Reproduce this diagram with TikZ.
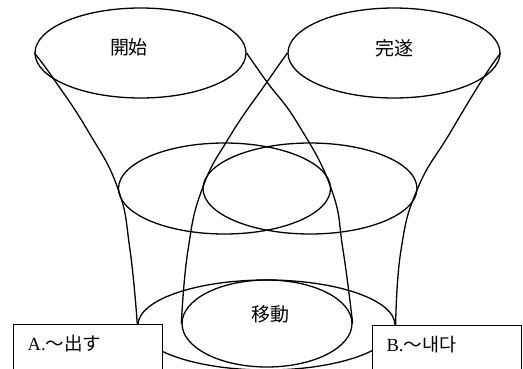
\documentclass[tikz,border=0pt]{standalone}
\usepackage{fontspec}
\setmainfont{Liberation Serif}
\newfontfamily\jpfont{Noto Sans CJK JP}
\newfontfamily\krfont{Noto Sans CJK KR}
\usetikzlibrary{shapes.geometric}
\begin{document}
\begin{tikzpicture}[x=1pt,y=-1pt, line width=1.3pt,
  oval/.style={draw, ellipse, inner sep=0pt},
  lab/.style={font=\jpfont\fontsize{19}{19}\selectfont, inner sep=0pt},
  boxlab/.style={font=\fontsize{18.5}{18.5}\selectfont, inner sep=0pt, anchor=west},
  boxx/.style={draw, fill=white, rectangle, inner sep=0pt, anchor=north west, minimum width=149pt, minimum height=50pt}]
\useasboundingbox (0,0) rectangle (523,368);
% ellipses
\node[oval, minimum width=211pt, minimum height=90pt] (kaishi) at (140.5,53) {};
\node[oval, minimum width=212pt, minimum height=90pt] (kansui) at (394,53) {};
\node[oval, minimum width=212pt, minimum height=91pt] (midL) at (224.5,188.5) {};
\node[oval, minimum width=214pt, minimum height=91pt] (midR) at (310,188.5) {};
\node[oval, minimum width=257pt, minimum height=90pt] (outer) at (266.5,325) {};
\node[oval, minimum width=170pt, minimum height=87pt] (inner) at (267,323.5) {};
% labels
\node[lab] (t1) at (129,47) {開始};
\node[lab] (t2) at (394,48) {完遂};
\node[lab] (t3) at (270,314) {移動};
% funnel curves
\draw plot[smooth, tension=0.8] coordinates {(kaishi.west) (53,78) (88,131) (midL.west) (130,250) (outer.west)};
\draw plot[smooth, tension=0.8] coordinates {(kaishi.east) (267,82) (298,124) (midL.east) (343,250) (inner.east)};
\draw plot[smooth, tension=0.8] coordinates {(kansui.west) (267,82) (230,136) (midR.west) (188,250) (inner.west)};
\draw plot[smooth, tension=0.8] coordinates {(kansui.east) (482,80) (450,133) (midR.east) (401,250) (outer.east)};
% boxes
\node[boxx] (boxA) at (13,324) {};
\node[boxx] (boxB) at (372,325) {};
\node[boxlab] (ta) at (27,344) {A.{\jpfont ～出す}};
\node[boxlab] (tb) at (386,345) {B.{\krfont ～내다}};
\end{tikzpicture}
\end{document}
